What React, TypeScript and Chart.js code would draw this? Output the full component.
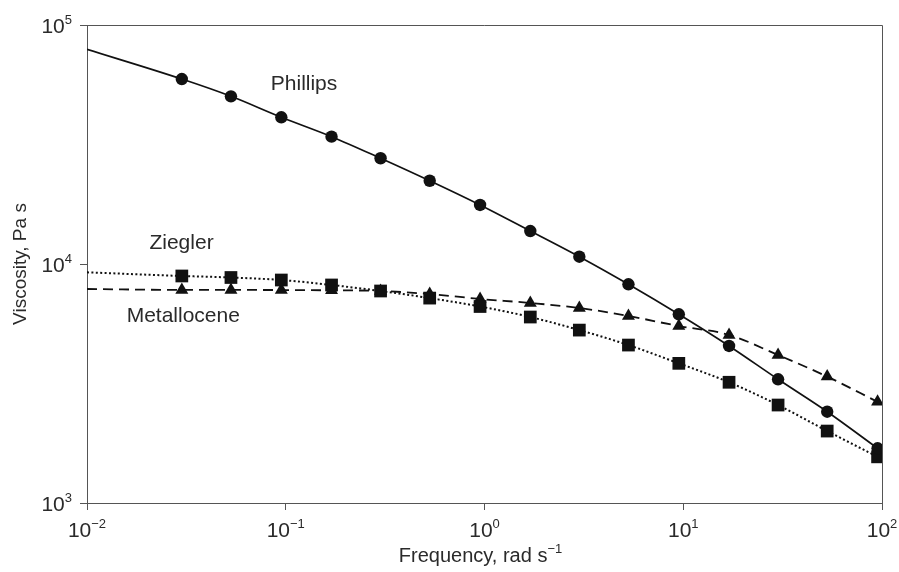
import React, { useEffect, useRef } from "react";
import { Chart, registerables } from "chart.js";

Chart.register(...registerables);

// Frequencies (rad/s) of the measured points
const frequencies = [0.03, 0.053, 0.095, 0.17, 0.3, 0.53, 0.95, 1.7, 3, 5.3, 9.5, 17, 30, 53, 95];
// Curve start at left edge (frequency 0.01)
const curveStartFreq = 0.01;
const phillipsStart = 79100;
const zieglerStart = 9230;
const metalloceneStart = 7860;

const phillips = [59400, 50300, 41100, 34100, 27700, 22300, 17660, 13740, 10730, 8225, 6160, 4540, 3293, 2410, 1694];
const ziegler = [8910, 8780, 8570, 8170, 7710, 7200, 6640, 6000, 5290, 4580, 3840, 3200, 2570, 2000, 1560];
const metallocene = [7790, 7790, 7780, 7760, 7710, 7490, 7140, 6870, 6545, 6060, 5500, 5050, 4160, 3380, 2650];

const xTickValues = [0.01, 0.1, 1, 10, 100];
const xTickBase = ["10", "10", "10", "10", "10"];
const xTickExp = ["−2", "−1", "0", "1", "2"];
const yTickValues = [1000, 10000, 100000];
const yTickBase = ["10", "10", "10"];
const yTickExp = ["3", "4", "5"];

const xTitleMain = "Frequency, rad s";
const xTitleExp = "−1";
const yTitle = "Viscosity, Pa s";

const seriesNames = ["Phillips", "Ziegler", "Metallocene"];
// label anchor positions in data coordinates
const labelX = [0.1236, 0.0299, 0.0305];
const labelY = [56600, 12240, 6030];

const FONT = '"Liberation Sans", Arial, Helvetica, sans-serif';
const INK = "#111111";
const TEXT = "#2a2a2a";
const AXIS = "#555555";
const BASE_SIZE = 21;
const EXP_SIZE = 13;
const EXP_RAISE = 9;

function buildData(start: number, vals: number[]) {
  return [{ x: curveStartFreq, y: start }].concat(frequencies.map((f, i) => ({ x: f, y: vals[i] })));
}

function drawPowered(ctx: CanvasRenderingContext2D, base: string, exp: string, x: number, baseline: number, align: "center" | "right", baseSize: number) {
  ctx.font = `${baseSize}px ${FONT}`;
  const wb = ctx.measureText(base).width;
  ctx.font = `${EXP_SIZE}px ${FONT}`;
  const we = ctx.measureText(exp).width;
  const total = wb + we;
  const left = align === "center" ? x - total / 2 : x - total;
  ctx.textAlign = "left";
  ctx.textBaseline = "alphabetic";
  ctx.font = `${baseSize}px ${FONT}`;
  ctx.fillText(base, left, baseline);
  ctx.font = `${EXP_SIZE}px ${FONT}`;
  ctx.fillText(exp, left + wb, baseline - EXP_RAISE);
}

const framePlugin = {
  id: "frame",
  afterDatasetsDraw(chart: any) {
    const { ctx, chartArea } = chart;
    ctx.save();
    ctx.strokeStyle = AXIS;
    ctx.lineWidth = 1;
    ctx.beginPath();
    ctx.moveTo(chartArea.left, chartArea.top + 0.5);
    ctx.lineTo(chartArea.right + 0.5, chartArea.top + 0.5);
    ctx.lineTo(chartArea.right + 0.5, chartArea.bottom);
    ctx.stroke();
    ctx.restore();
  },
};

const textPlugin = {
  id: "texts",
  afterDraw(chart: any) {
    const { ctx, scales, chartArea } = chart;
    ctx.save();
    ctx.fillStyle = TEXT;
    // series labels
    ctx.font = `21px ${FONT}`;
    ctx.textAlign = "center";
    ctx.textBaseline = "middle";
    seriesNames.forEach((name, i) => {
      ctx.fillText(name, scales.x.getPixelForValue(labelX[i]), scales.y.getPixelForValue(labelY[i]));
    });
    // x tick labels
    scales.x.ticks.forEach((t: any) => {
      const i = xTickValues.indexOf(t.value);
      if (i < 0) return;
      drawPowered(ctx, xTickBase[i], xTickExp[i], scales.x.getPixelForValue(t.value), chartArea.bottom + 34, "center", BASE_SIZE);
    });
    // y tick labels
    scales.y.ticks.forEach((t: any) => {
      const i = yTickValues.indexOf(t.value);
      if (i < 0) return;
      drawPowered(ctx, yTickBase[i], yTickExp[i], chartArea.left - 15, scales.y.getPixelForValue(t.value) + 8, "right", BASE_SIZE);
    });
    // x title
    drawPowered(ctx, xTitleMain, xTitleExp, (chartArea.left + chartArea.right) / 2 - 4, chartArea.bottom + 59, "center", 20);
    ctx.restore();
  },
};

export default function App() {
  const canvasRef = useRef<HTMLCanvasElement | null>(null);

  useEffect(() => {
    if (!canvasRef.current) return;
    const pointSkip = (r: number) => (c: any) => (c.dataIndex === 0 ? 0 : r);
    const chart = new Chart(canvasRef.current, {
      type: "line",
      data: {
        datasets: [
          {
            label: "Phillips",
            data: buildData(phillipsStart, phillips),
            borderColor: INK,
            backgroundColor: INK,
            borderWidth: 1.7,
            pointStyle: "circle",
            pointRadius: pointSkip(6.2),
            pointBorderWidth: 0,
            cubicInterpolationMode: "monotone",
          },
          {
            label: "Ziegler",
            data: buildData(zieglerStart, ziegler),
            borderColor: INK,
            backgroundColor: INK,
            borderWidth: 2,
            borderDash: [2, 2.4],
            pointStyle: "rect",
            pointRadius: pointSkip(9),
            pointBorderWidth: 0,
            cubicInterpolationMode: "monotone",
          },
          {
            label: "Metallocene",
            data: buildData(metalloceneStart, metallocene),
            borderColor: INK,
            backgroundColor: INK,
            borderWidth: 1.8,
            borderDash: [10, 6],
            pointStyle: "triangle",
            pointRadius: pointSkip(7.5),
            pointBorderWidth: 0,
            cubicInterpolationMode: "monotone",
          },
        ],
      } as any,
      options: {
        responsive: false,
        animation: false,
        layout: { padding: { left: 0, top: 25, right: 17, bottom: 0 } },
        plugins: { legend: { display: false }, tooltip: { enabled: false } },
        scales: {
          x: {
            type: "logarithmic",
            min: 0.01,
            max: 100,
            afterBuildTicks: (scale: any) => {
              scale.ticks = xTickValues.map((v) => ({ value: v, major: true }));
            },
            afterFit: (scale: any) => {
              scale.height = 69;
              scale.paddingLeft = 0;
              scale.paddingRight = 0;
            },
            ticks: { display: false, autoSkip: false },
            grid: { display: true, drawOnChartArea: false, drawTicks: true, tickLength: 7, color: AXIS },
            border: { display: true, color: AXIS, width: 1 },
            title: { display: false },
          },
          y: {
            type: "logarithmic",
            min: 1000,
            max: 100000,
            afterBuildTicks: (scale: any) => {
              scale.ticks = yTickValues.map((v) => ({ value: v, major: true }));
            },
            afterFit: (scale: any) => {
              scale.width = 87;
              scale.paddingTop = 0;
              scale.paddingBottom = 0;
            },
            ticks: { display: false, autoSkip: false },
            grid: { display: true, drawOnChartArea: false, drawTicks: true, tickLength: 7, color: AXIS },
            border: { display: true, color: AXIS, width: 1 },
            title: {
              display: true,
              text: yTitle,
              color: TEXT,
              font: { family: FONT, size: 19 },
              padding: { top: 9, bottom: 0 },
            },
          },
        },
      } as any,
      plugins: [framePlugin, textPlugin],
    });
    return () => chart.destroy();
  }, []);

  return (
    <div style={{ position: "fixed", left: 0, top: 0, width: 899, height: 572, background: "#fff" }}>
      <canvas ref={canvasRef} width={899} height={572} style={{ display: "block" }} />
    </div>
  );
}
